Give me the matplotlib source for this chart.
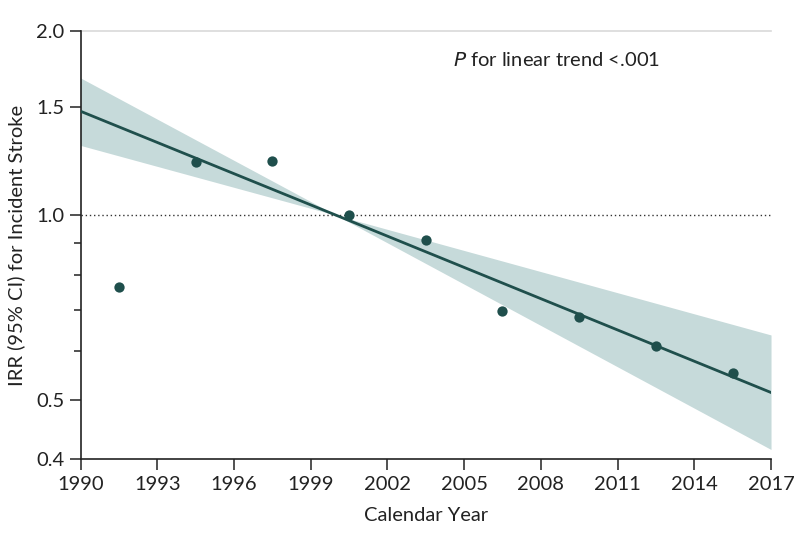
import matplotlib
matplotlib.use("Agg")
import matplotlib.pyplot as plt
from matplotlib.ticker import FixedLocator, NullFormatter, FixedFormatter

plt.rcParams['font.family'] = ['Lato', 'DejaVu Sans']

# Data
years = [1991.5, 1994.5, 1997.5, 2000.5, 2003.5, 2006.5, 2009.5, 2012.5, 2015.5]
irr = [0.764, 1.22, 1.226, 1.0, 0.911, 0.699, 0.683, 0.611, 0.553]

trend_x = [1990, 2000, 2017]
trend_y = [1.478, 1.0, 0.514]
ci_upper = [1.675, 1.0, 0.638]
ci_lower = [1.30, 1.0, 0.415]

xticks = list(range(1990, 2018, 3))
yticks_major = [0.4, 0.5, 1.0, 1.5, 2.0]
ytick_labels = ['0.4', '0.5', '1.0', '1.5', '2.0']
yticks_minor = [0.6, 0.7, 0.8, 0.9]

dark = '#1f4f4c'
band = '#c6dada'

fig = plt.figure(figsize=(7.98, 5.46), dpi=100)
ax = fig.add_axes([0.1009, 0.1588, 0.8653, 0.785])

ax.set_yscale('log')
ax.fill_between(trend_x, ci_lower, ci_upper, color=band, lw=0, zorder=1)
ax.axhline(1.0, color='#333333', lw=1.0, ls=(0, (1, 2)), zorder=2)
ax.axhline(2.0, color='#d9d9d9', lw=1.2, zorder=0, clip_on=False)
ax.plot(trend_x, trend_y, color=dark, lw=2.0, zorder=3)
ax.scatter(years, irr, s=55, color=dark, zorder=4, lw=0)

ax.set_xlim(1990, 2017)
ax.set_ylim(0.4, 2.0)
ax.set_xticks(xticks)
ax.yaxis.set_major_locator(FixedLocator(yticks_major))
ax.yaxis.set_major_formatter(FixedFormatter(ytick_labels))
ax.yaxis.set_minor_locator(FixedLocator(yticks_minor))
ax.yaxis.set_minor_formatter(NullFormatter())

for s in ['top', 'right']:
    ax.spines[s].set_visible(False)
for s in ['left', 'bottom']:
    ax.spines[s].set_color('#222222')
    ax.spines[s].set_linewidth(1.2)

ax.tick_params(axis='both', which='major', labelsize=14.5, length=8, width=1.1,
               color='#222222', labelcolor='#222222')
ax.tick_params(axis='y', which='minor', length=5, width=1.1, color='#222222')
ax.tick_params(axis='x', pad=4)

ax.set_xlabel('Calendar Year', fontsize=14.5, color='#222222', labelpad=10)
ax.set_ylabel('IRR (95% CI) for Incident Stroke', fontsize=14.5, color='#222222', labelpad=8)

ax.text(2004.55, 1.79, r'$\it{P}$ for linear trend <.001', fontsize=14.5,
        color='#222222', va='center', ha='left')

fig.savefig('out.png', dpi=100)
